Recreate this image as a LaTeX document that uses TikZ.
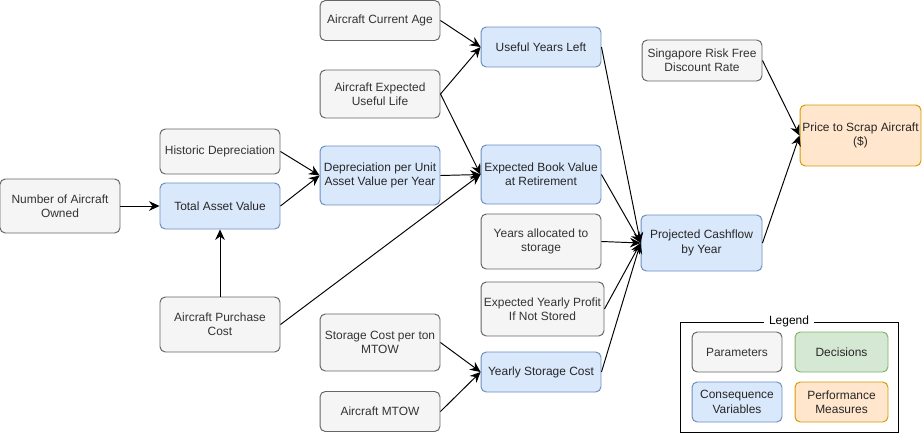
\documentclass[tikz,border=0pt]{standalone}
\usepackage{fontspec}
\setmainfont{Liberation Sans}
\usetikzlibrary{arrows.meta,positioning}
\definecolor{parfill}{HTML}{F5F5F5}
\definecolor{pardraw}{HTML}{666666}
\definecolor{partext}{HTML}{333333}
\definecolor{confill}{HTML}{DAE8FC}
\definecolor{condraw}{HTML}{6C8EBF}
\definecolor{decfill}{HTML}{D5E8D4}
\definecolor{decdraw}{HTML}{82B366}
\definecolor{perffill}{HTML}{FFE6CC}
\definecolor{perfdraw}{HTML}{D79B00}
\tikzstyle{box} = [rounded corners=3pt, line width=0.55pt, minimum width=2.4cm, inner sep=1pt, align=center, font=\fontsize{6.8}{8.2}\selectfont]
\tikzstyle{param} = [box, draw=pardraw, fill=parfill, text=partext]
\tikzstyle{conseq} = [box, draw=condraw, fill=confill, text=black!85]
\tikzstyle{decision} = [box, draw=decdraw, fill=decfill, text=black!85]
\tikzstyle{perf} = [box, draw=perfdraw, fill=perffill, text=black!85]
\tikzstyle{link} = [line width=0.55pt, -{Stealth[length=6pt,width=5.5pt,inset=2pt]}]

\begin{document}
\begin{tikzpicture}[x=0.02cm,y=-0.02cm]
	\useasboundingbox (0,0) rectangle (922,433);
	% parameters
	\node (num) at (60,206) [param,minimum height=1.08cm] {Number of Aircraft\\Owned};
	\node (hist) at (220,151.5) [param,minimum height=0.9cm] {Historic Depreciation};
	\node (purch) at (220,324.5) [param,minimum height=1.1cm] {Aircraft Purchase\\Cost};
	\node (age) at (380,20.5) [param,minimum height=0.8cm] {Aircraft Current Age};
	\node (life) at (380,94) [param,minimum height=0.96cm] {Aircraft Expected\\Useful Life};
	\node (stcost) at (380,342.5) [param,minimum height=1.14cm] {Storage Cost per ton\\MTOW};
	\node (mtow) at (380,411.5) [param,minimum height=0.8cm] {Aircraft MTOW};
	\node (yrs) at (541,241.5) [param,minimum height=1.1cm] {Years allocated to\\storage};
	\node (profit) at (542.5,309) [param,minimum width=2.46cm,minimum height=1.08cm] {Expected Yearly Profit\\If Not Stored};
	\node (rate) at (702,60.5) [param,minimum height=0.82cm] {Singapore Risk Free\\Discount Rate};
	% consequences
	\node (tav) at (220,206) [conseq,minimum height=0.92cm] {Total Asset Value};
	\node (dep) at (380,175.5) [conseq,minimum height=1.18cm] {Depreciation per Unit\\Asset Value per Year};
	\node (left) at (541,47) [conseq,minimum height=0.8cm] {Useful Years Left};
	\node (ebv) at (541,174.5) [conseq,minimum height=1.18cm] {Expected Book Value\\at Retirement};
	\node (ysc) at (541,372) [conseq,minimum height=0.8cm] {Yearly Storage Cost};
	\node (cash) at (701.5,243) [conseq,minimum width=2.42cm,minimum height=1.12cm] {Projected Cashflow\\by Year};
	% performance
	\node (price) at (860.5,135.5) [perf,minimum width=2.42cm,minimum height=1.22cm] {Price to Scrap Aircraft\\(\$)};

	\draw[link] (num.east) -- (tav.west);
	\draw[link] (purch.north) -- (tav.south);
	\draw[link] (hist.east) -- (dep.west);
	\draw[link] (tav.east) -- (dep.west);
	\draw[link] (age.east) -- (left.west);
	\draw[link] (life.east) -- (left.west);
	\draw[link] (life.east) -- (ebv.west);
	\draw[link] (dep.east) -- (ebv.west);
	\draw[link] (purch.east) -- (ebv.west);
	\draw[link] (stcost.east) -- (ysc.west);
	\draw[link] (mtow.east) -- (ysc.west);
	\draw[link] (left.east) -- (cash.west);
	\draw[link] (ebv.east) -- (cash.west);
	\draw[link] (yrs.east) -- (cash.west);
	\draw[link] (profit.east) -- (cash.west);
	\draw[link] (ysc.east) -- (cash.west);
	\draw[link] (rate.east) -- (price.west);
	\draw[link] (cash.east) -- (price.west);

	% legend
	\node (legend) at (789,377) [draw,line width=0.55pt,minimum width=4.36cm,minimum height=2.2cm] {};
	\node (legtitle) at (legend.north) [fill=white,inner xsep=0.1cm,inner ysep=0pt,font=\fontsize{6.8}{8.2}\selectfont] {Legend};
	\node (lpar) at (737,352) [param,minimum width=1.8cm,minimum height=0.8cm] {Parameters};
	\node (ldec) at (841.5,352) [decision,minimum width=1.86cm,minimum height=0.8cm] {Decisions};
	\node (lcon) at (737,402) [conseq,minimum width=1.8cm,minimum height=0.8cm] {Consequence\\Variables};
	\node (lperf) at (841.5,402) [perf,minimum width=1.86cm,minimum height=0.8cm] {Performance\\Measures};
\end{tikzpicture}
\end{document}
